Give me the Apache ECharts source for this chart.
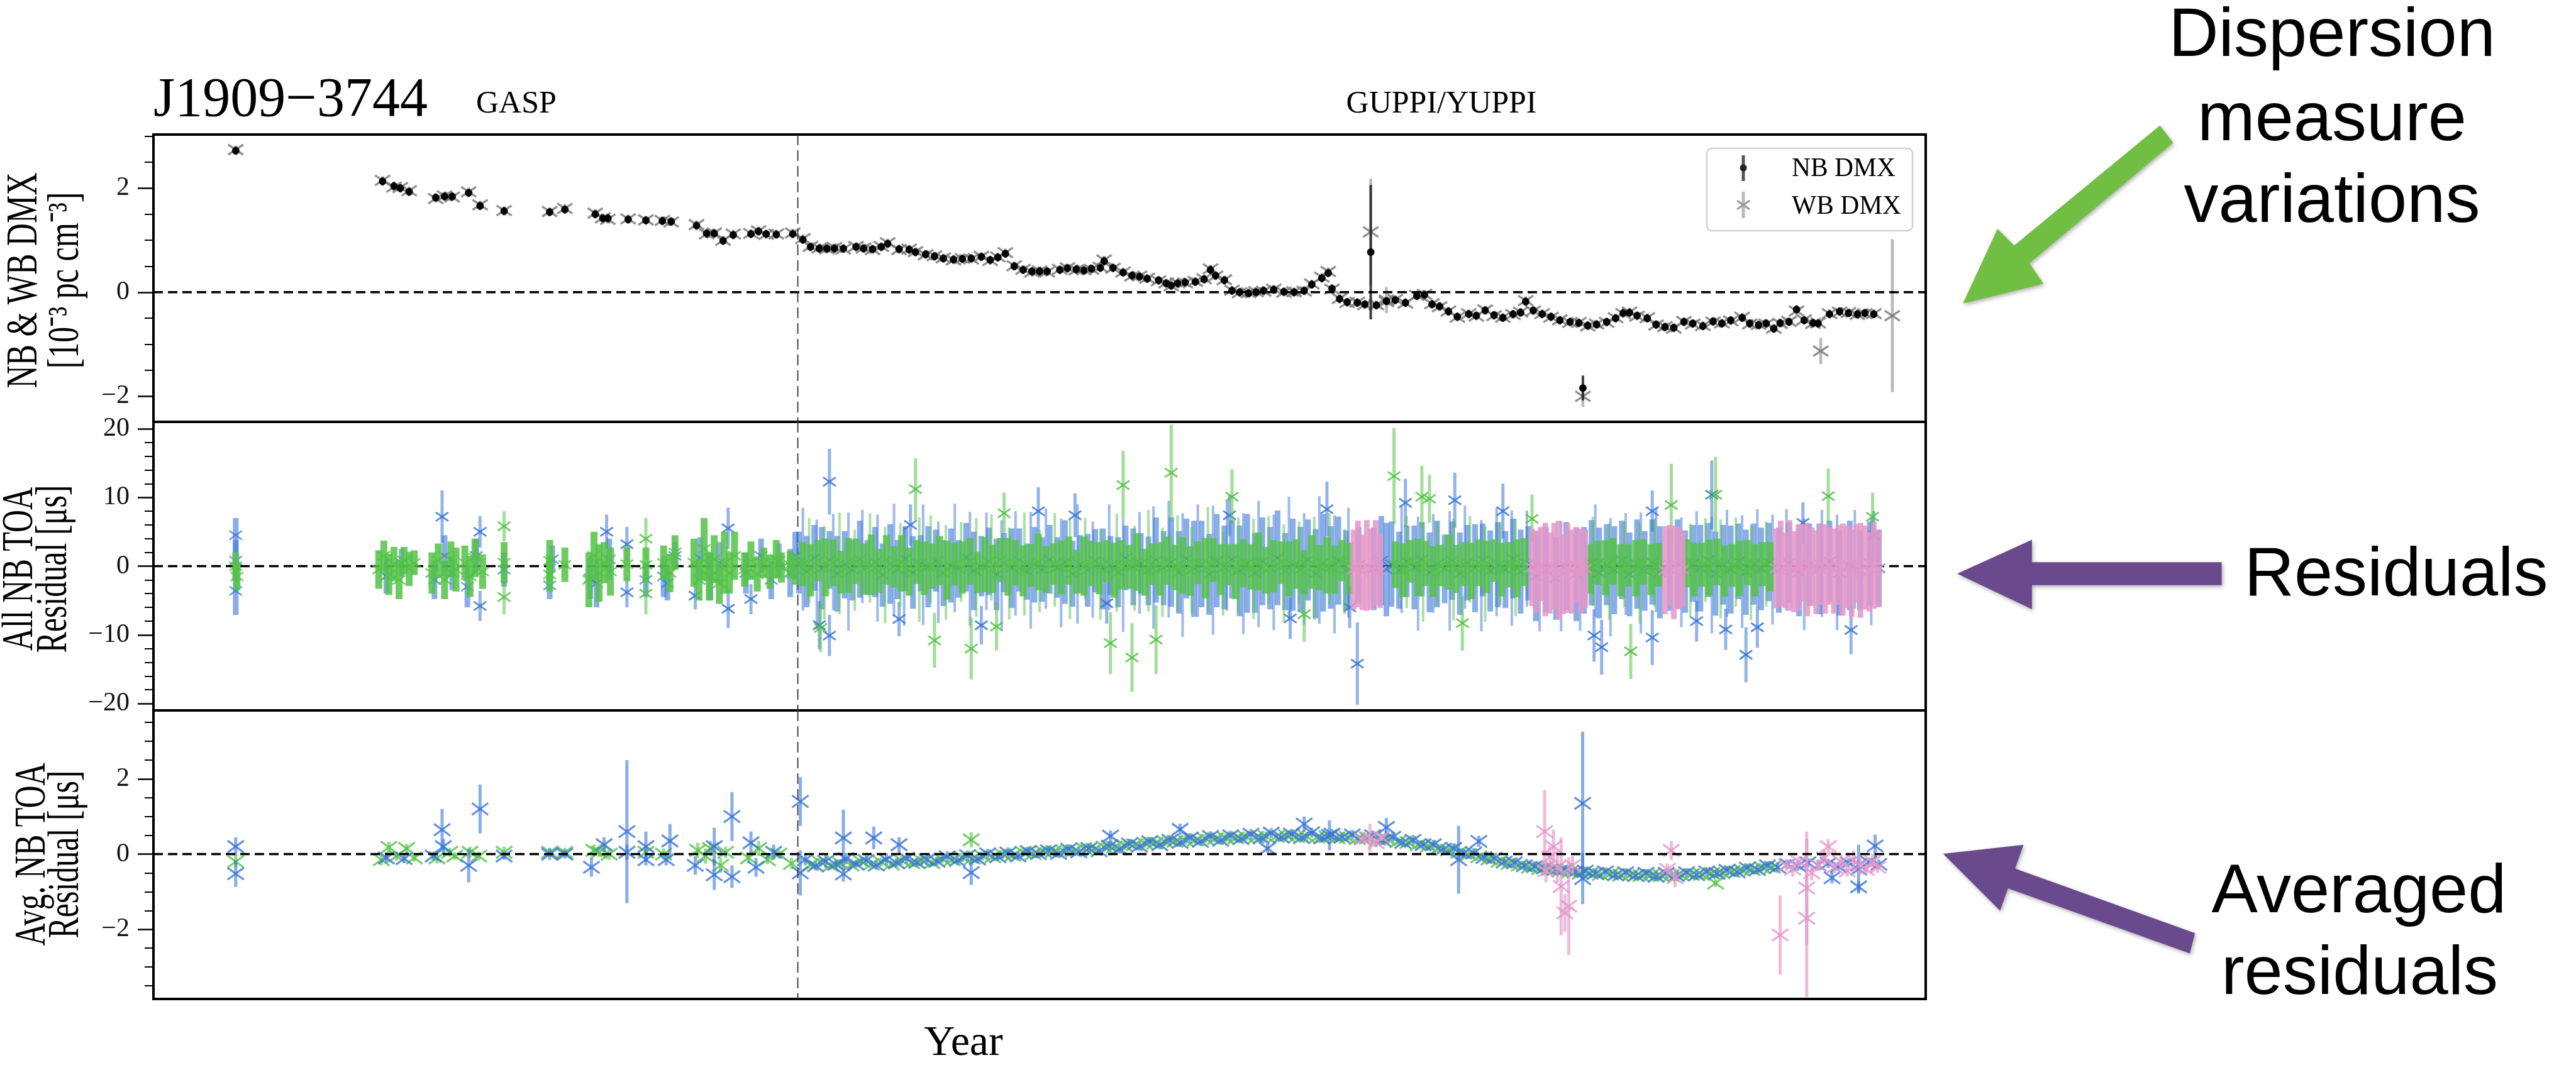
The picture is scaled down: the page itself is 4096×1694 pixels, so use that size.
<!DOCTYPE html>
<html><head><meta charset="utf-8">
<script src="https://cdn.jsdelivr.net/npm/echarts@6/dist/echarts.min.js"></script>
<style>html,body{margin:0;padding:0;background:#fff}#c{width:4096px;height:1694px}</style>
</head><body><div id="c"></div>
<script>
// ---------------- DATA ----------------
const xMin = 2004.0, xMax = 2018.0;
const transitionYear = 2009.09;   // GASP -> GUPPI/YUPPI
const zeroLevel = 0;

// DMX epochs (years) and values [1e-3 pc cm^-3]
const dmxT = [
 2004.65,2005.81,2005.90,2005.95,2006.02,2006.23,2006.30,2006.36,2006.49,2006.58,
 2006.77,2007.13,2007.25,2007.49,2007.55,2007.59,2007.75,2007.89,2008.02,2008.09,
 2008.29,2008.37,2008.43,2008.50,2008.58,2008.72,2008.78,2008.84,2008.92,2009.05,
 2009.13,2009.19,2009.26,2009.32,2009.38,2009.45,2009.55,2009.61,2009.68,2009.75,
 2009.80,2009.89,2009.97,2010.02,2010.10,2010.17,2010.24,2010.32,2010.39,2010.46,
 2010.54,2010.61,2010.67,2010.73,2010.80,2010.87,2010.94,2011.00,2011.06,2011.16,
 2011.22,2011.29,2011.35,2011.41,2011.48,2011.51,2011.58,2011.66,2011.73,2011.79,
 2011.85,2011.94,2012.00,2012.04,2012.09,2012.15,2012.23,2012.30,2012.35,2012.39,
 2012.46,2012.52,2012.58,2012.65,2012.71,2012.77,2012.85,2012.93,2013.01,2013.09,
 2013.15,2013.23,2013.28,2013.31,2013.37,2013.43,2013.51,2013.57,2013.66,2013.74,
 2013.81,2013.89,2013.98,2014.04,2014.10,2014.16,2014.23,2014.30,2014.39,2014.45,
 2014.52,2014.59,2014.66,2014.74,2014.80,2014.84,2014.90,2014.97,2015.04,2015.11,
 2015.19,2015.26,2015.33,2015.40,2015.48,2015.55,2015.61,2015.66,2015.72,2015.80,
 2015.87,2015.94,2016.01,2016.09,2016.16,2016.24,2016.32,2016.39,2016.46,2016.55,
 2016.61,2016.68,2016.74,2016.80,2016.85,2016.92,2016.98,2017.04,2017.11,2017.15,
 2017.24,2017.32,2017.39,2017.46,2017.52,2017.59];
const dmxNB = [
 2.72,2.13,2.04,2.00,1.93,1.82,1.84,1.84,1.91,1.66,
 1.56,1.54,1.59,1.50,1.42,1.42,1.40,1.38,1.37,1.36,
 1.28,1.13,1.13,0.99,1.10,1.12,1.17,1.12,1.11,1.12,
 1.01,0.87,0.84,0.84,0.84,0.84,0.87,0.84,0.83,0.87,
 0.93,0.83,0.82,0.77,0.73,0.69,0.65,0.63,0.64,0.65,
 0.68,0.62,0.67,0.74,0.50,0.43,0.40,0.40,0.40,0.43,
 0.46,0.44,0.42,0.45,0.47,0.60,0.47,0.38,0.32,0.30,
 0.26,0.23,0.17,0.13,0.17,0.19,0.20,0.25,0.43,0.32,
 0.23,0.03,0.00,-0.02,0.00,0.03,0.05,0.01,0.00,0.03,
 0.15,0.27,0.37,0.07,-0.13,-0.19,-0.20,-0.23,-0.25,-0.17,
 -0.15,-0.20,-0.07,-0.05,-0.23,-0.27,-0.37,-0.47,-0.42,-0.45,
 -0.35,-0.44,-0.49,-0.42,-0.39,-0.18,-0.35,-0.42,-0.47,-0.54,
 -0.57,-0.59,-0.64,-0.62,-0.57,-0.50,-0.40,-0.39,-0.45,-0.50,
 -0.62,-0.67,-0.68,-0.57,-0.60,-0.65,-0.56,-0.60,-0.54,-0.49,
 -0.60,-0.63,-0.60,-0.70,-0.59,-0.57,-0.33,-0.54,-0.59,-0.60,
 -0.42,-0.37,-0.40,-0.42,-0.40,-0.42];
const dmxWB = [
 2.74,2.15,2.02,2.01,1.95,1.80,1.85,1.83,1.93,1.68,
 1.57,1.55,1.61,1.52,1.43,1.40,1.41,1.39,1.38,1.35,
 1.30,1.12,1.14,1.00,1.12,1.13,1.18,1.11,1.12,1.14,
 1.03,0.88,0.85,0.83,0.86,0.83,0.88,0.85,0.82,0.88,
 0.95,0.82,0.83,0.78,0.72,0.70,0.66,0.62,0.65,0.64,
 0.69,0.61,0.68,0.76,0.51,0.44,0.39,0.41,0.39,0.44,
 0.47,0.43,0.43,0.44,0.48,0.62,0.46,0.39,0.31,0.31,
 0.27,0.22,0.18,0.12,0.18,0.18,0.21,0.26,0.45,0.31,
 0.24,0.04,-0.01,-0.01,0.01,0.02,0.06,0.00,0.01,0.02,
 0.16,0.29,0.40,0.06,-0.12,-0.20,-0.19,-0.24,-0.24,-0.18,
 -0.14,-0.21,-0.06,-0.04,-0.22,-0.28,-0.36,-0.48,-0.41,-0.46,
 -0.34,-0.45,-0.48,-0.43,-0.38,-0.16,-0.36,-0.41,-0.48,-0.53,
 -0.58,-0.58,-0.65,-0.61,-0.58,-0.49,-0.41,-0.38,-0.46,-0.49,
 -0.63,-0.66,-0.69,-0.56,-0.61,-0.64,-0.57,-0.59,-0.55,-0.48,
 -0.61,-0.62,-0.61,-0.69,-0.60,-0.56,-0.36,-0.53,-0.60,-0.59,
 -0.41,-0.38,-0.39,-0.43,-0.41,-0.41];
const dmxErr = 0.08;
// DMX points with large uncertainties [year, value, err]
const nbDmxOut = [[2013.616,0.77,1.29],[2015.292,-1.84,0.24]];
const wbDmxOut = [[2013.616,1.16,1.02],[2013.74,-0.15,0.25],[2015.292,-2.0,0.2],[2017.171,-1.13,0.25],[2017.736,-0.45,1.47]];

// All NB TOA residuals [year, us, err] — per-epoch spreads
const resBlue = [
 [2004.65,4.5,2.5],[2004.65,-3.6,3.5],[2004.65,0.8,3.0],
 [2005.84,-1.5,2.5],[2005.96,0.5,2.0],
 [2006.22,-2.0,2.8],[2006.30,1.5,3.0],[2006.36,-1.0,2.5],
 [2006.48,-3.0,3.0],[2006.55,1.5,2.5],
 [2006.77,-0.5,2.5],[2007.13,-2.8,2.0],[2007.15,1.0,2.0],
 [2007.45,-1.8,3.0],[2007.50,-2.5,3.5],[2007.60,1.0,3.0],
 [2007.89,-2.0,2.5],
 [2008.03,-1.5,3.0],[2008.06,-2.5,2.5],[2008.12,1.5,2.0],
 [2008.32,1.2,3.0],[2008.40,-1.5,3.5],[2008.47,0.5,3.0],
 [2008.68,-1.0,3.0],[2008.80,1.5,2.5],[2008.88,-2.0,2.8],[2008.94,0.8,2.5],
 [2009.03,-1.0,3.5],[2009.07,1.5,3.5],
 [2009.10,0.5,4.5],[2009.16,-0.8,5.2],[2009.22,1.2,4.8],[2009.28,-0.3,6.0],[2009.34,0.9,4.2],[2009.40,-1.1,5.5],[2009.46,0.2,4.9],[2009.52,-0.6,4.4],[2009.58,1.0,5.6],[2009.64,-0.2,4.0],
 [2009.70,0.6,5.1],[2009.76,-1.3,4.6],[2009.82,0.3,5.8],[2009.88,-0.5,4.3],[2009.94,1.1,4.7],[2010.00,-0.9,5.3],[2010.06,0.4,4.1],[2010.12,-0.1,5.9],[2010.18,0.8,4.5],[2010.24,-1.0,4.8],
 [2010.30,0.1,5.4],[2010.36,-0.4,4.2],[2010.42,1.3,5.0],[2010.48,-0.7,5.7],[2010.54,0.0,4.4],[2010.60,0.7,4.9],[2010.66,-1.2,5.2],[2010.72,0.5,4.3],[2010.78,-0.3,5.8],[2010.84,0.9,4.6],
 [2010.90,-0.8,4.1],[2010.96,0.2,5.5],[2011.02,-0.5,4.7],[2011.08,1.0,5.0],[2011.14,-0.2,4.4],[2011.20,0.6,6.1],[2011.26,-1.1,4.8],[2011.32,0.3,4.2],[2011.38,-0.6,5.3],[2011.44,0.8,4.6],
 [2011.50,-0.4,5.9],[2011.56,0.1,4.3],[2011.62,-0.9,5.1],[2011.68,1.2,4.7],[2011.74,-0.1,5.6],[2011.80,0.4,4.4],[2011.86,-0.7,5.0],[2011.92,0.9,6.2],[2011.98,-0.3,5.4],
 [2012.04,0.6,6.5],[2012.10,-0.9,6.0],[2012.16,1.1,5.8],[2012.22,-0.4,7.0],[2012.28,0.3,6.3],[2012.34,-1.2,5.9],[2012.40,0.8,6.8],[2012.46,-0.2,6.1],[2012.52,1.0,5.7],[2012.58,-0.7,6.6],
 [2012.64,0.4,7.2],[2012.70,-1.0,5.8],[2012.76,0.7,6.4],[2012.82,-0.3,6.0],[2012.88,1.2,6.9],[2012.94,-0.8,5.6],[2013.00,0.2,6.7],[2013.06,-0.5,6.2],[2013.12,0.9,5.9],[2013.18,-1.1,6.5],
 [2013.24,0.5,7.1],[2013.30,-0.2,6.0],[2013.36,0.8,6.4],[2013.42,-0.6,5.8],
 [2013.52,0.2,5.5],[2013.64,-0.4,6.0],[2013.70,0.8,6.5],[2013.74,-0.5,6.8],[2013.78,0.3,6.2],
 [2013.84,-0.6,5.6],[2013.90,0.7,5.2],[2013.96,-0.2,6.1],[2014.02,1.0,5.4],[2014.08,-0.9,5.8],[2014.14,0.3,6.3],[2014.20,-0.4,5.0],[2014.26,0.8,5.7],[2014.32,-1.1,6.0],[2014.38,0.5,5.5],
 [2014.44,-0.3,6.4],[2014.50,0.9,5.3],[2014.56,-0.7,5.9],[2014.62,0.2,6.2],[2014.68,-0.5,5.6],[2014.74,1.1,5.8],[2014.80,-0.8,6.1],[2014.86,0.4,5.4],
 [2014.92,-1.5,6.5],[2015.00,-0.5,6.2],[2015.08,-1.8,6.0],[2015.16,0.0,6.4],[2015.24,-1.2,6.8],[2015.30,-0.6,6.3],
 [2015.36,0.5,6.2],[2015.42,-1.0,6.6],[2015.48,0.2,5.9],[2015.54,-0.6,6.4],[2015.60,0.9,5.7],[2015.66,-1.2,6.1],[2015.72,0.3,6.5],[2015.78,-0.7,5.8],[2015.84,0.6,6.2],[2015.90,-0.9,6.7],
 [2015.98,-0.5,6.0],[2016.04,0.3,6.5],
 [2016.10,-0.8,6.0],[2016.16,0.4,5.6],[2016.22,-0.3,6.3],[2016.28,0.9,5.4],[2016.34,-1.1,6.1],[2016.40,0.2,5.8],[2016.46,-0.5,6.4],[2016.52,0.7,5.5],[2016.58,-0.9,6.2],[2016.64,0.3,5.9],[2016.70,-0.4,6.0],[2016.76,0.6,5.7],
 [2016.84,-0.6,6.2],[2016.92,0.5,5.8],[2017.00,-0.9,6.4],[2017.08,0.2,6.0],[2017.16,-0.4,6.6],[2017.24,0.7,5.9],[2017.32,-1.0,6.2],[2017.40,0.1,6.5],[2017.48,-0.6,5.8],[2017.56,0.4,6.1],[2017.63,-0.3,5.6]];
// longer single TOA bars at the band edges
const resBlueTall = [
 [2009.13,1.0,7.5],[2009.24,-1.2,8.0],[2009.37,0.6,7.0],[2009.49,-0.8,8.6],[2009.60,1.4,6.8],[2009.72,-0.3,7.8],[2009.85,0.9,8.2],[2009.93,-1.5,7.2],
 [2010.08,0.2,8.8],[2010.20,-0.9,7.4],[2010.33,1.2,7.9],[2010.45,-0.4,8.3],[2010.58,0.7,7.1],[2010.70,-1.3,8.0],[2010.81,0.4,7.6],[2010.93,-0.6,8.5],
 [2011.05,1.1,7.3],[2011.17,-1.0,7.9],[2011.30,0.3,8.7],[2011.42,-0.5,7.0],[2011.55,1.3,7.7],[2011.66,-1.4,8.2],[2011.79,0.5,7.4],[2011.90,-0.2,8.9],
 [2012.02,1.0,8.5],[2012.13,-1.3,9.0],[2012.25,0.8,8.2],[2012.37,-0.6,9.4],[2012.48,1.5,8.0],[2012.61,-1.1,8.8],[2012.73,0.3,9.2],[2012.85,-0.9,8.4],
 [2012.97,1.2,8.9],[2013.09,-0.4,8.1],[2013.21,0.9,9.3],[2013.33,-1.2,8.6],[2013.44,0.5,8.0],
 [2013.86,1.0,7.8],[2013.99,-1.1,8.3],[2014.11,0.4,7.2],[2014.24,-0.7,8.7],[2014.36,1.3,7.5],[2014.49,-1.4,8.1],[2014.61,0.6,7.9],[2014.73,-0.3,8.4],[2014.85,1.1,7.0],
 [2014.95,-2.0,7.5],[2015.12,-1.5,8.0],[2015.27,-2.2,7.2],
 [2015.39,0.8,8.2],[2015.51,-1.6,8.6],[2015.63,0.3,7.4],[2015.75,-1.0,8.8],[2015.87,0.9,7.6],
 [2016.07,-0.9,8.0],[2016.19,0.7,7.3],[2016.31,-1.3,8.5],[2016.43,0.4,7.8],[2016.55,-0.8,8.2],[2016.67,1.2,7.1],[2016.79,-0.5,8.0],
 [2016.90,0.9,7.4],[2017.04,-1.2,8.1],[2017.18,0.4,7.8],[2017.30,-0.9,8.4],[2017.44,1.0,7.2],[2017.57,-0.7,7.9]];
// individual TOAs standing out of the band
const resBlueOut = [
 [2006.28,7.2,3.8],[2006.58,5.0,2.3],[2006.58,-5.8,2.2],[2007.58,5.0,2.5],[2007.74,3.2,2.5],[2007.74,-3.8,2.2],
 [2008.28,-4.3,2.0],[2008.54,5.5,3.0],[2008.54,-6.2,2.8],[2008.72,-4.8,2.2],
 [2009.34,12.3,4.8],[2009.34,-10.1,3.0],[2009.26,-8.6,3.5],[2009.89,-7.7,2.5],[2009.98,6.0,3.0],[2010.54,-8.6,2.8],
 [2010.99,8.0,3.5],[2011.28,7.4,3.2],[2011.53,-5.4,3.0],[2012.50,7.4,3.0],[2012.98,-7.6,3.0],[2013.27,8.3,4.0],
 [2013.51,-14.2,6.0],[2013.45,-6.0,3.0],[2013.89,9.2,3.5],[2014.28,9.6,4.0],[2014.66,8.0,4.0],[2015.38,-10.1,3.8],
 [2015.44,-11.8,4.0],[2015.84,-10.4,4.0],[2015.84,8.0,3.0],[2016.19,-8.0,3.0],[2016.31,10.4,5.0],[2016.42,-9.2,3.0],
 [2016.58,-12.9,4.0],[2016.67,-8.9,3.0],[2017.03,6.3,3.0],[2017.41,-9.3,3.5],[2017.59,4.5,3.5]];
const resGreen = [
 [2004.65,0.0,2.0],[2004.66,-1.5,2.0],
 [2005.78,-0.5,2.8],[2005.82,1.5,2.2],[2005.86,-1.2,3.0],[2005.90,0.3,2.5],[2005.94,-2.0,2.8],[2005.98,0.8,2.0],[2006.02,-0.4,2.5],[2006.06,0.5,1.8],
 [2006.20,-1.0,3.0],[2006.25,0.8,2.5],[2006.30,-2.0,2.8],[2006.35,1.0,2.6],[2006.39,-0.5,3.2],
 [2006.46,0.5,2.5],[2006.50,-1.5,3.0],[2006.54,1.2,2.8],[2006.60,-0.8,2.5],
 [2006.77,0.5,3.0],[2007.13,0.8,3.0],[2007.13,-1.2,2.5],[2007.25,0.2,2.5],
 [2007.44,-2.0,4.0],[2007.48,1.5,3.5],[2007.52,-1.0,4.2],[2007.56,0.5,3.0],[2007.61,-0.8,3.5],[2007.74,0.3,2.5],
 [2007.89,0.2,2.5],[2008.03,0.5,2.5],[2008.08,-1.0,2.8],[2008.12,2.0,2.5],
 [2008.27,0.5,3.5],[2008.31,-2.0,3.0],[2008.35,2.5,4.5],[2008.39,-1.5,3.5],[2008.43,1.0,3.5],[2008.47,-2.5,3.0],[2008.51,0.5,4.5],[2008.55,-1.0,3.0],[2008.59,1.5,3.5],
 [2008.67,-0.5,2.5],[2008.72,0.8,2.8],[2008.77,-1.2,2.5],[2008.82,0.5,2.2],[2008.87,-0.8,2.5],[2008.92,1.0,2.8],[2008.96,-0.2,2.2],[2009.03,0.2,2.0],[2009.07,-0.5,2.2],
 [2009.13,0.3,3.2],[2009.19,-0.6,3.8],[2009.25,0.8,3.0],[2009.31,-0.2,4.2],[2009.37,0.5,3.4],[2009.43,-0.9,3.1],[2009.49,0.1,4.0],[2009.55,0.7,3.3],[2009.61,-0.4,3.7],[2009.67,0.2,4.4],
 [2009.73,-0.7,3.2],[2009.79,0.9,3.6],[2009.85,-0.1,3.0],[2009.91,0.4,4.1],[2009.97,-0.8,3.5],[2010.03,0.6,3.2],[2010.09,-0.3,3.9],[2010.15,0.0,3.3],[2010.21,0.8,3.6],[2010.27,-0.6,4.3],
 [2010.33,0.3,3.1],[2010.39,-0.2,3.8],[2010.45,0.7,3.4],[2010.51,-0.9,3.0],[2010.57,0.2,4.0],[2010.63,-0.4,3.5],[2010.69,0.9,3.2],[2010.75,-0.1,4.2],[2010.81,0.5,3.3],[2010.87,-0.7,3.7],
 [2010.93,0.1,3.1],[2010.99,0.6,4.1],[2011.05,-0.5,3.4],[2011.11,0.3,3.0],[2011.17,-0.2,3.9],[2011.23,0.8,3.5],[2011.29,-0.8,3.2],[2011.35,0.0,4.3],[2011.41,0.4,3.3],[2011.47,-0.3,3.8],
 [2011.53,0.7,3.1],[2011.59,-0.6,4.0],[2011.65,0.2,3.6],[2011.71,-0.1,3.2],[2011.77,0.6,4.2],[2011.83,-0.9,3.4],[2011.89,0.3,3.0],[2011.95,-0.4,3.9],[2012.01,0.8,3.5],[2012.07,-0.2,3.3],
 [2012.13,0.1,4.1],[2012.19,-0.7,3.6],[2012.25,0.5,3.1],[2012.31,-0.3,4.4],[2012.37,0.9,3.2],[2012.43,-0.5,3.7],[2012.49,0.2,3.0],[2012.55,-0.8,4.0],[2012.61,0.4,3.5],[2012.67,-0.1,3.3],
 [2012.73,0.7,4.2],[2012.79,-0.6,3.4],[2012.85,0.0,3.8],[2012.91,0.5,3.1],[2012.97,-0.4,4.0],[2013.03,0.3,3.6],[2013.09,-0.9,3.2],[2013.15,0.6,3.9],[2013.21,-0.2,3.3],[2013.27,0.1,4.1],
 [2013.33,-0.5,3.5],[2013.39,0.8,3.0],[2013.45,-0.3,3.7],
 [2013.81,0.2,3.4],[2013.87,-0.6,3.9],[2013.93,0.7,3.1],[2013.99,-0.2,4.2],[2014.05,0.4,3.3],[2014.11,-0.8,3.7],[2014.17,0.1,3.0],[2014.23,0.6,4.0],[2014.29,-0.4,3.5],[2014.35,0.3,3.2],
 [2014.41,-0.7,4.1],[2014.47,0.5,3.4],[2014.53,-0.1,3.8],[2014.59,0.8,3.1],[2014.65,-0.5,3.9],[2014.71,0.2,3.3],[2014.77,-0.3,4.2],[2014.83,0.6,3.5],
 [2015.35,-0.4,3.6],[2015.41,0.5,3.2],[2015.47,-0.2,4.0],[2015.53,0.7,3.4],[2015.59,-0.6,3.8],[2015.65,0.1,3.1],[2015.71,-0.3,4.1],[2015.77,0.6,3.3],[2015.83,-0.5,3.7],[2015.89,0.2,3.2],
 [2016.11,0.4,3.5],[2016.17,-0.5,3.9],[2016.23,0.2,3.2],[2016.29,-0.2,4.1],[2016.35,0.6,3.4],[2016.41,-0.7,3.7],[2016.47,0.1,3.1],[2016.53,-0.3,4.0],[2016.59,0.5,3.3],[2016.65,-0.6,3.8],
 [2016.71,0.3,3.2],[2016.77,-0.1,3.6]];
const resGreenTall = [
 [2009.18,0.8,6.2],[2009.30,-1.0,6.8],[2009.42,0.4,7.4],[2009.54,-0.6,5.9],[2009.66,1.2,6.5],[2009.78,-1.3,7.0],[2009.90,0.2,6.1],[2010.05,-0.5,7.6],
 [2010.14,1.0,6.4],[2010.26,-0.9,6.9],[2010.38,0.6,5.8],[2010.50,-0.2,7.2],[2010.62,1.3,6.3],[2010.76,-1.1,6.7],[2010.88,0.3,7.5],[2011.00,-0.7,6.0],
 [2011.12,0.9,6.8],[2011.24,-0.4,7.3],[2011.36,1.1,5.9],[2011.48,-1.2,6.6],[2011.61,0.5,7.1],[2011.75,-0.3,6.2],[2011.86,0.8,7.4],[2011.97,-0.9,6.5],
 [2012.09,0.4,7.0],[2012.20,-0.6,6.3],[2012.33,1.0,7.6],[2012.45,-1.1,6.1],[2012.57,0.2,6.9],[2012.69,-0.4,7.3],[2012.81,0.9,6.4],[2012.93,-1.0,7.1],
 [2013.05,0.5,6.0],[2013.17,-0.3,7.5],[2013.29,1.1,6.6],[2013.41,-0.8,6.2],
 [2013.90,0.6,6.7],[2014.03,-0.9,7.2],[2014.14,0.3,6.1],[2014.27,-0.5,7.4],[2014.40,1.0,6.3],[2014.52,-1.2,6.9],[2014.64,0.4,6.0],[2014.76,-0.2,7.1],
 [2015.37,0.7,6.5],[2015.50,-0.8,7.0],[2015.62,0.2,6.2],[2015.74,-1.1,7.3],[2015.86,0.5,6.4],
 [2016.14,-0.6,6.8],[2016.26,0.9,6.1],[2016.38,-0.4,7.2],[2016.50,0.6,6.5],[2016.62,-1.0,6.9],[2016.74,0.3,6.2]];
const resGreenOut = [
 [2006.77,5.8,2.2],[2006.77,-4.5,2.5],[2007.89,4.0,3.0],[2007.89,-4.0,3.0],
 [2009.27,-9.0,3.5],[2010.02,11.2,4.5],[2010.17,-10.8,4.0],[2010.46,-12.0,4.5],[2010.66,-8.8,3.5],[2010.72,7.7,3.0],
 [2011.56,-11.2,4.5],[2011.66,11.8,5.0],[2011.73,-13.3,5.0],[2011.92,-10.7,5.0],[2012.04,13.6,7.0],[2012.52,10.1,4.0],
 [2013.09,-7.0,4.0],[2013.80,13.1,7.0],[2014.02,10.1,4.5],[2014.08,9.8,3.5],[2014.34,-8.3,4.0],[2014.89,6.9,3.5],
 [2015.67,-12.4,4.0],[2015.99,8.9,6.0],[2016.34,10.4,5.5],[2017.23,10.2,4.0],[2017.58,7.2,3.5]];
const resPink = [
 [2013.48,-0.5,5.8],[2013.515,0.3,6.3],[2013.55,-0.9,5.5],[2013.585,0.1,6.6],[2013.62,-0.4,5.9],[2013.655,0.5,6.2],[2013.69,-0.7,5.4],
 [2014.89,-0.2,5.6],[2014.925,-0.8,6.0],[2014.96,0.3,5.4],[2014.995,-0.5,6.8],[2015.03,-1.0,5.9],[2015.065,0.0,6.3],[2015.10,-0.6,7.2],[2015.135,-1.2,5.8],[2015.17,-0.3,6.5],[2015.205,-0.8,6.1],[2015.24,0.2,5.5],[2015.275,-0.7,6.2],[2015.31,-0.4,5.7],
 [2015.94,-0.6,6.4],[2015.975,0.2,5.8],[2016.01,-0.9,6.8],[2016.045,-0.3,6.0],[2016.08,-0.5,5.5],
 [2016.82,-0.3,5.8],[2016.855,0.4,6.2],[2016.89,-0.6,5.5],[2016.925,0.1,6.6],[2016.96,-0.8,5.9],[2016.995,-0.2,6.3],[2017.03,0.5,5.6],[2017.065,-0.5,6.8],[2017.10,-0.1,5.7],[2017.135,-0.9,6.1],
 [2017.17,0.3,5.9],[2017.205,-0.4,6.5],[2017.24,0.0,5.6],[2017.275,-0.7,6.2],[2017.31,0.2,5.8],[2017.345,-0.5,6.7],[2017.38,-0.1,6.0],[2017.415,-1.0,6.4],[2017.45,0.4,5.7],[2017.485,-0.6,6.9],
 [2017.52,-0.2,6.1],[2017.555,-0.8,5.8],[2017.59,0.1,6.3],[2017.625,-0.4,5.6]];

// Averaged NB TOA residuals [year, us, err]
const avgBlue = [
 [2004.65,0.2,0.25],[2004.65,-0.52,0.35],[2005.84,-0.1,0.15],[2005.98,-0.12,0.12],
 [2006.21,-0.05,0.12],[2006.28,0.65,0.55],[2006.29,0.2,0.2],[2006.49,-0.3,0.45],[2006.58,1.2,0.65],[2006.77,-0.05,0.1],
 [2007.13,0.0,0.15],[2007.25,0.0,0.12],[2007.46,-0.35,0.25],[2007.56,0.25,0.2],[2007.74,0.6,1.9],[2007.74,0.05,0.2],
 [2007.89,0.2,0.4],[2007.89,-0.15,0.15],[2008.08,0.35,0.45],[2008.05,-0.15,0.15],
 [2008.28,-0.3,0.25],[2008.43,-0.55,0.4],[2008.43,0.2,0.5],[2008.57,1.0,0.65],[2008.57,-0.6,0.3],
 [2008.72,0.3,0.3],[2008.76,-0.35,0.25],[2008.90,0.05,0.2],[2009.11,1.4,0.65],[2009.11,-0.5,0.6],
 [2009.15,-0.15,0.15],[2009.23,-0.31,0.12],[2009.31,-0.19,0.18],[2009.39,-0.27,0.12],[2009.47,-0.12,0.15],[2009.55,-0.26,0.10],[2009.63,-0.17,0.14],[2009.71,-0.29,0.12],[2009.79,-0.14,0.16],[2009.87,-0.23,0.12],
 [2009.95,-0.11,0.15],[2010.03,-0.22,0.12],[2010.11,-0.15,0.14],[2010.19,-0.19,0.12],[2010.27,-0.07,0.15],[2010.35,-0.17,0.12],[2010.43,-0.04,0.14],[2010.51,-0.13,0.12],[2010.59,0.01,0.13],[2010.67,-0.07,0.12],
 [2010.75,0.03,0.15],[2010.83,-0.05,0.12],[2010.91,0.07,0.13],[2010.99,0.01,0.12],[2011.07,0.09,0.14],[2011.15,0.02,0.12],[2011.23,0.13,0.13],[2011.31,0.06,0.12],[2011.39,0.15,0.14],[2011.47,0.09,0.12],
 [2011.55,0.21,0.13],[2011.63,0.14,0.12],[2011.71,0.27,0.14],[2011.79,0.21,0.12],[2011.87,0.33,0.13],[2011.95,0.25,0.12],[2012.03,0.37,0.14],[2012.11,0.31,0.12],[2012.19,0.43,0.13],[2012.27,0.34,0.12],
 [2012.35,0.47,0.14],[2012.43,0.37,0.12],[2012.51,0.49,0.13],[2012.59,0.41,0.12],[2012.67,0.53,0.14],[2012.75,0.43,0.12],[2012.83,0.56,0.13],[2012.91,0.45,0.12],[2012.99,0.53,0.14],[2013.07,0.44,0.12],
 [2013.15,0.57,0.13],[2013.23,0.43,0.12],[2013.31,0.53,0.14],[2013.39,0.45,0.12],[2013.47,0.51,0.13],[2013.55,0.41,0.12],[2013.63,0.49,0.14],[2013.71,0.37,0.12],[2013.79,0.45,0.13],[2013.87,0.31,0.12],
 [2013.95,0.37,0.14],[2014.03,0.25,0.12],[2014.11,0.25,0.13],[2014.19,0.13,0.12],[2014.27,0.15,0.14],[2014.35,0.03,0.12],[2014.43,0.03,0.13],[2014.51,-0.09,0.12],[2014.59,-0.11,0.14],[2014.67,-0.21,0.12],
 [2014.75,-0.23,0.13],[2014.83,-0.31,0.12],[2014.91,-0.33,0.14],[2014.99,-0.37,0.12],[2015.07,-0.41,0.13],[2015.15,-0.41,0.12],[2015.23,-0.47,0.14],[2015.31,-0.45,0.12],[2015.39,-0.51,0.13],[2015.47,-0.47,0.12],
 [2015.55,-0.55,0.14],[2015.63,-0.49,0.12],[2015.71,-0.57,0.13],[2015.79,-0.51,0.12],[2015.87,-0.59,0.14],[2015.95,-0.51,0.12],[2016.03,-0.57,0.13],[2016.11,-0.49,0.12],[2016.19,-0.55,0.14],[2016.27,-0.47,0.12],
 [2016.35,-0.51,0.13],[2016.43,-0.43,0.12],[2016.51,-0.47,0.14],[2016.59,-0.37,0.12],[2016.67,-0.41,0.13],[2016.75,-0.31,0.12],[2016.83,-0.35,0.14],[2016.91,-0.27,0.12],[2016.99,-0.31,0.13],[2017.07,-0.23,0.12],
 [2017.15,-0.29,0.14],[2017.23,-0.25,0.12],[2017.31,-0.33,0.13],[2017.39,-0.23,0.12],[2017.47,-0.29,0.14],[2017.55,-0.21,0.12],[2017.63,-0.27,0.13]];
const avgBlueOut = [
 [2009.45,0.43,0.75],[2009.45,-0.53,0.2],[2009.69,0.43,0.3],[2009.89,0.25,0.2],[2010.46,-0.49,0.33],[2011.56,0.48,0.15],
 [2012.11,0.66,0.15],[2012.80,0.15,0.12],[2013.09,0.80,0.2],[2013.29,0.5,0.4],[2013.74,0.71,0.25],[2014.31,-0.15,0.9],
 [2014.47,0.34,0.15],[2015.29,1.35,1.9],[2015.29,-0.65,0.68],[2017.26,-0.63,0.15],[2017.47,-0.4,0.65],[2017.47,-0.87,0.15],[2017.60,0.22,0.3]];
const avgGreen = [
 [2004.65,-0.2,0.15],[2005.80,-0.15,0.15],[2005.86,0.18,0.15],[2005.92,-0.05,0.12],[2006.00,0.15,0.12],[2006.06,-0.1,0.1],
 [2006.24,-0.1,0.15],[2006.34,0.05,0.12],[2006.38,-0.05,0.1],[2006.50,0.05,0.15],[2006.57,-0.05,0.12],[2006.77,0.05,0.15],
 [2007.13,0.05,0.12],[2007.25,0.05,0.12],[2007.48,0.1,0.15],[2007.52,0.05,0.12],[2007.60,0.0,0.15],[2007.89,0.05,0.12],[2008.03,0.0,0.15],
 [2008.30,0.1,0.2],[2008.36,-0.05,0.2],[2008.40,0.15,0.2],[2008.48,-0.3,0.2],[2008.52,0.05,0.15],
 [2008.70,-0.1,0.15],[2008.78,0.15,0.2],[2008.85,-0.15,0.12],[2008.94,0.0,0.12],[2009.04,-0.25,0.15],
 [2009.19,-0.28,0.10],[2009.27,-0.21,0.12],[2009.35,-0.31,0.10],[2009.43,-0.25,0.12],[2009.51,-0.29,0.10],[2009.59,-0.19,0.12],[2009.67,-0.27,0.10],[2009.75,-0.21,0.12],[2009.83,-0.27,0.10],[2009.91,-0.17,0.12],
 [2009.99,-0.23,0.10],[2010.07,-0.17,0.12],[2010.15,-0.23,0.10],[2010.23,-0.13,0.12],[2010.31,-0.15,0.10],[2010.39,-0.09,0.12],[2010.47,-0.11,0.10],[2010.55,-0.05,0.12],[2010.63,-0.07,0.10],[2010.71,-0.01,0.12],
 [2010.79,-0.03,0.10],[2010.87,0.05,0.12],[2010.95,0.01,0.10],[2011.03,0.07,0.12],[2011.11,0.07,0.10],[2011.19,0.09,0.12],[2011.27,0.09,0.10],[2011.35,0.15,0.12],[2011.43,0.13,0.10],[2011.51,0.19,0.12],
 [2011.59,0.19,0.10],[2011.67,0.23,0.12],[2011.75,0.25,0.10],[2011.83,0.29,0.12],[2011.91,0.29,0.10],[2011.99,0.33,0.12],[2012.07,0.34,0.10],[2012.15,0.37,0.12],[2012.23,0.37,0.10],[2012.31,0.41,0.12],
 [2012.39,0.41,0.10],[2012.47,0.43,0.12],[2012.55,0.43,0.10],[2012.63,0.46,0.12],[2012.71,0.45,0.10],[2012.79,0.47,0.12],[2012.87,0.47,0.10],[2012.95,0.49,0.12],[2013.03,0.47,0.10],[2013.11,0.47,0.12],
 [2013.19,0.45,0.10],[2013.27,0.46,0.12],[2013.35,0.43,0.10],[2013.43,0.45,0.12],[2013.51,0.41,0.10],[2013.59,0.43,0.12],[2013.67,0.39,0.10],[2013.75,0.39,0.12],[2013.83,0.33,0.10],[2013.91,0.31,0.12],
 [2013.99,0.25,0.10],[2014.07,0.21,0.12],[2014.15,0.15,0.10],[2014.23,0.11,0.12],[2014.31,0.05,0.10],[2014.39,-0.01,0.12],[2014.47,-0.07,0.10],[2014.55,-0.13,0.12],[2014.63,-0.19,0.10],[2014.71,-0.25,0.12],
 [2014.79,-0.29,0.10],[2014.87,-0.35,0.12],[2014.95,-0.39,0.10],[2015.03,-0.41,0.12],[2015.11,-0.45,0.10],[2015.19,-0.47,0.12],[2015.27,-0.51,0.10],[2015.35,-0.51,0.12],[2015.43,-0.54,0.10],[2015.51,-0.53,0.12],
 [2015.59,-0.56,0.10],[2015.67,-0.55,0.12],[2015.75,-0.57,0.10],[2015.83,-0.56,0.12],[2015.91,-0.57,0.10],[2015.99,-0.57,0.12],[2016.07,-0.56,0.10],[2016.15,-0.54,0.12],[2016.23,-0.54,0.10],[2016.31,-0.51,0.12],
 [2016.39,-0.49,0.10],[2016.47,-0.46,0.12],[2016.55,-0.43,0.10],[2016.63,-0.41,0.12],[2016.71,-0.36,0.10],[2016.79,-0.35,0.12]];
const avgGreenOut = [[2010.46,0.38,0.2],[2016.34,-0.77,0.1]];
const avgPink = [
 [2013.55,0.40,0.12],[2013.61,0.43,0.37],[2013.66,0.30,0.12],[2013.70,0.45,0.1],
 [2014.99,0.6,1.1],[2015.00,-0.45,0.3],[2015.03,-0.08,0.3],[2015.06,0.2,0.45],[2015.09,-0.35,0.4],[2015.12,-0.86,1.3],[2015.15,-1.56,0.5],[2015.18,-1.38,1.3],[2015.21,-0.3,0.25],
 [2015.96,-0.4,0.15],[2015.99,0.1,0.25],[2016.02,-0.63,0.25],
 [2016.85,-2.15,1.05],[2017.06,-0.9,1.5],[2017.06,-1.7,2.1],
 [2016.90,-0.3,0.15],[2016.95,-0.4,0.2],[2017.00,-0.2,0.15],[2017.10,-0.5,0.2],[2017.15,-0.3,0.15],[2017.20,-0.1,0.2],[2017.23,0.2,0.2],[2017.28,-0.35,0.15],
 [2017.33,-0.2,0.2],[2017.38,-0.45,0.15],[2017.43,-0.15,0.25],[2017.48,-0.3,0.2],[2017.53,-0.4,0.15],[2017.58,-0.2,0.2],[2017.62,-0.35,0.15]];

// Tick values
const dmxMajor = [-2,0,2], dmxMinor = [-1.5,-1,-0.5,0.5,1,1.5,2.5,3];
const resMajor = [-20,-10,0,10,20], resMinor = [-18,-16,-14,-12,-8,-6,-4,-2,2,4,6,8,12,14,16,18];
const avgMajor = [-2,0,2], avgMinor = [-3.5,-3,-2.5,-1.5,-1,-0.5,0.5,1,1.5,2.5,3,3.5];

// ---------------- CHART ----------------
const chart = echarts.init(document.getElementById('c'), null, {renderer:'canvas'});
const L = 244, W = 2818;
const grids = [
  {left:L, top:214, width:W, height:457},
  {left:L, top:671, width:W, height:459},
  {left:L, top:1130, width:W, height:459}
].map(g => Object.assign(g, {show:true, borderColor:'#000', borderWidth:4, backgroundColor:'transparent'}));
const yRanges = [[-2.49,3.03],[-21,21],[-3.85,3.82]];
const majors = [dmxMajor, resMajor, avgMajor], minors = [dmxMinor, resMinor, avgMinor];
const fmt = v => (v < 0 ? '\u2212' + Math.abs(v) : String(v));

const xAxes = [0,1,2].map(i => ({gridIndex:i, type:'value', min:xMin, max:xMax, show:false}));
const yAxes = [];
[0,1,2].forEach(i => {
  yAxes.push({gridIndex:i, type:'value', position:'left', min:yRanges[i][0], max:yRanges[i][1],
    axisLine:{show:false}, splitLine:{show:false},
    axisTick:{show:true, length:25, inside:false, customValues:majors[i], lineStyle:{color:'#000', width:2.5}},
    axisLabel:{show:true, customValues:majors[i], margin:38, formatter:fmt,
      fontFamily:'Liberation Serif', fontSize:42, color:'#111'}});
  yAxes.push({gridIndex:i, type:'value', position:'left', offset:0, min:yRanges[i][0], max:yRanges[i][1],
    axisLine:{show:false}, splitLine:{show:false}, axisLabel:{show:false},
    axisTick:{show:true, length:14, customValues:minors[i], lineStyle:{color:'#000', width:2}}});
});

function errSeries(data, gi, o) {
  return {
    type:'custom', xAxisIndex:gi, yAxisIndex:gi*2, data:data, z:o.z, silent:true, animation:false, clip:true,
    encode:{x:0, y:1},
    renderItem: function (params, api) {
      const x = api.value(0), y = api.value(1), e = api.value(2);
      const cs = params.coordSys;
      const c = api.coord([x, y]);
      const cl = v => Math.max(cs.y, Math.min(cs.y + cs.height, v));
      const kids = [];
      if (e > 0) {
        const t = cl(api.coord([x, y + e])[1]), b = cl(api.coord([x, y - e])[1]);
        kids.push({type:'line', shape:{x1:c[0], y1:t, x2:c[0], y2:b},
          style:{stroke:o.bar, lineWidth:o.bw, opacity:o.bop}});
      }
      if (o.mk && c[1] >= cs.y && c[1] <= cs.y + cs.height) {
        if (o.mk === 'x') {
          const hw = o.mw/2, hh = o.mh/2;
          kids.push({type:'line', shape:{x1:c[0]-hw, y1:c[1]-hh, x2:c[0]+hw, y2:c[1]+hh}, style:{stroke:o.col, lineWidth:o.ml, opacity:o.mop}});
          kids.push({type:'line', shape:{x1:c[0]-hw, y1:c[1]+hh, x2:c[0]+hw, y2:c[1]-hh}, style:{stroke:o.col, lineWidth:o.ml, opacity:o.mop}});
        } else if (o.mk === 'dot') {
          kids.push({type:'circle', shape:{cx:c[0], cy:c[1], r:o.mw/2}, style:{fill:o.col, opacity:o.mop}});
        }
      }
      return {type:'group', children:kids};
    }
  };
}
function refSeries(gi, z) {
  return {type:'custom', xAxisIndex:gi, yAxisIndex:gi*2, z:z, silent:true, animation:false,
    data:[[transitionYear, zeroLevel]], encode:{x:0, y:1},
    renderItem: function (params, api) {
      const cs = params.coordSys;
      const p = api.coord([api.value(0), api.value(1)]);
      return {type:'group', children:[
        {type:'line', shape:{x1:cs.x, y1:p[1], x2:cs.x+cs.width, y2:p[1]}, style:{stroke:'#000', lineWidth:3.5, lineDash:[15,8]}},
        {type:'line', shape:{x1:p[0], y1:cs.y, x2:p[0], y2:cs.y+cs.height}, style:{stroke:'#333', lineWidth:1.8, lineDash:[17,8]}}
      ]};
    }};
}

const BLUE = '#3b76d6', GREEN = '#55c247', PINK = '#e397c8';
const nbData = dmxT.map((t, i) => [t, dmxNB[i], dmxErr]);
const wbData = dmxT.map((t, i) => [t, dmxWB[i], dmxErr]);

const band = {mk:'x', mw:20, mh:14, ml:2.6, bw:9, bop:0.6, mop:0.7};
const tall = {mk:null, bw:4, bop:0.5};
const single = {mk:'x', mw:20, mh:14, ml:2.8, bw:5, bop:0.55, mop:0.85};
const p3 = {mk:'x', mw:26, mh:19, ml:3.2, bw:5, bop:0.6, mop:0.8};

const series = [
  // panel 1: DMX
  errSeries(wbData.concat(wbDmxOut), 0, {z:3, mk:'x', col:'#7d7d7d', mw:24, mh:16, ml:3.4, mop:0.85, bar:'#b0b0b0', bw:4.5, bop:0.9}),
  errSeries(nbData.concat(nbDmxOut), 0, {z:4, mk:'dot', col:'#000', mw:12, mop:0.95, bar:'#2a2a2a', bw:4, bop:0.9}),
  refSeries(0, 5),
  // panel 2: all residuals
  refSeries(1, 1),
  errSeries(resBlueTall, 1, Object.assign({z:2, col:BLUE, bar:BLUE}, tall)),
  errSeries(resBlue, 1, Object.assign({z:2, col:BLUE, bar:BLUE}, band)),
  errSeries(resBlueOut, 1, Object.assign({z:2, col:BLUE, bar:BLUE}, single)),
  errSeries(resGreenTall, 1, Object.assign({z:3, col:GREEN, bar:GREEN}, tall)),
  errSeries(resGreen, 1, Object.assign({z:3, col:GREEN, bar:GREEN}, band, {bw:11, bop:0.85, mop:0.8})),
  errSeries(resGreenOut, 1, Object.assign({z:3, col:GREEN, bar:GREEN}, single)),
  errSeries(resPink, 1, Object.assign({}, band, {z:4, col:PINK, bar:PINK, bw:9, bop:0.85, mop:0.85})),
  // panel 3: averaged residuals
  errSeries(avgGreen.concat(avgGreenOut), 2, Object.assign({z:2, col:GREEN, bar:GREEN}, p3)),
  errSeries(avgBlue.concat(avgBlueOut), 2, Object.assign({z:3, col:BLUE, bar:BLUE}, p3)),
  errSeries(avgPink, 2, Object.assign({}, p3, {z:4, col:PINK, bar:PINK, bop:0.65, mop:0.8})),
  refSeries(2, 6)
];

function txt(x, y, text, size, family, opts) {
  opts = opts || {};
  return Object.assign({type:'text', x:x, y:y, z:200, silent:true,
    style:{text:text, fill:opts.fill || '#000', fontSize:size, fontFamily:family,
      align:opts.align || 'left', textAlign:opts.align || 'left',
      verticalAlign:'middle', textVerticalAlign:'middle'}}, opts.el || {});
}
const SERIF = 'Liberation Serif', SANS = 'Liberation Sans';
const rot = {rotation:Math.PI/2, scaleY:1.4};
const xMark = (cx, cy, w, h, col) => [
  {type:'line', z:201, shape:{x1:cx-w/2, y1:cy-h/2, x2:cx+w/2, y2:cy+h/2}, style:{stroke:col, lineWidth:3}},
  {type:'line', z:201, shape:{x1:cx-w/2, y1:cy+h/2, x2:cx+w/2, y2:cy-h/2}, style:{stroke:col, lineWidth:3}}];

const graphics = [
  txt(244, 161, 'J1909\u22123744', 88, SERIF),
  txt(757, 166, 'GASP', 50, SERIF),
  txt(2292, 166, 'GUPPI/YUPPI', 50, SERIF, {align:'center'}),
  txt(1532, 1660, 'Year', 68, SERIF, {align:'center'}),
  // y-axis titles
  txt(40, 446, 'NB & WB DMX', 50, SERIF, {align:'center', el:rot}),
  txt(106, 446, '[10\u207B\u00B3 pc cm\u207B\u00B3]', 50, SERIF, {align:'center', el:rot}),
  txt(33, 905, 'All NB TOA', 50, SERIF, {align:'center', el:rot}),
  txt(87, 905, 'Residual [\u03BCs]', 50, SERIF, {align:'center', el:rot}),
  txt(53, 1359, 'Avg. NB TOA', 50, SERIF, {align:'center', el:rot}),
  txt(106, 1359, 'Residual [\u03BCs]', 50, SERIF, {align:'center', el:rot}),
  // legend
  {type:'rect', z:199, shape:{x:2714, y:236, width:327, height:131, r:8}, style:{fill:'#fff', stroke:'#d2d2d2', lineWidth:2.5}},
  {type:'line', z:200, shape:{x1:2772, y1:247, x2:2772, y2:288}, style:{stroke:'#555', lineWidth:5}},
  {type:'circle', z:201, shape:{cx:2772, cy:267, r:5.5}, style:{fill:'#222'}},
  {type:'line', z:200, shape:{x1:2772, y1:305, x2:2772, y2:347}, style:{stroke:'#bbb', lineWidth:5}},
  ...xMark(2772, 326, 20, 14, '#999'),
  txt(2849, 269, 'NB DMX', 41.5, SERIF),
  txt(2849, 329, 'WB DMX', 41.5, SERIF),
  // annotations
  txt(3708, 59, 'Dispersion', 110, SANS, {align:'center'}),
  txt(3708, 193, 'measure', 110, SANS, {align:'center'}),
  txt(3708, 323, 'variations', 110, SANS, {align:'center'}),
  txt(3810, 917, 'Residuals', 110, SANS, {align:'center'}),
  txt(3751, 1421, 'Averaged', 110, SANS, {align:'center'}),
  txt(3752, 1551, 'residuals', 110, SANS, {align:'center'}),
  {type:'polygon', z:150, shape:{points:[[3434.5,199.4],[3202.7,390.6],[3176.1,364],[3121.2,482.8],[3249.2,451.2],[3226.8,418.8],[3455.3,226.9]]},
    style:{fill:'#70bf42', shadowBlur:6, shadowColor:'rgba(0,0,0,0.3)', shadowOffsetX:2, shadowOffsetY:3}},
  {type:'polygon', z:150, shape:{points:[[3532.6,894.2],[3230.9,894.2],[3230.9,858.4],[3112.1,912.4],[3230.9,969],[3230.9,930.7],[3532.6,930.7]]},
    style:{fill:'#6a4a8c', shadowBlur:6, shadowColor:'rgba(0,0,0,0.3)', shadowOffsetX:2, shadowOffsetY:3}},
  {type:'polygon', z:150, shape:{points:[[3490.2,1484.2],[3204.1,1381.6],[3217.6,1343.7],[3089.7,1357.9],[3180.2,1448.4],[3192.9,1413],[3481.9,1516.6]]},
    style:{fill:'#6a4a8c', shadowBlur:6, shadowColor:'rgba(0,0,0,0.3)', shadowOffsetX:2, shadowOffsetY:3}}
];

chart.setOption({
  animation:false,
  backgroundColor:'#fff',
  grid:grids, xAxis:xAxes, yAxis:yAxes, series:series,
  graphic:{elements:graphics}
});
</script>
</body></html>
